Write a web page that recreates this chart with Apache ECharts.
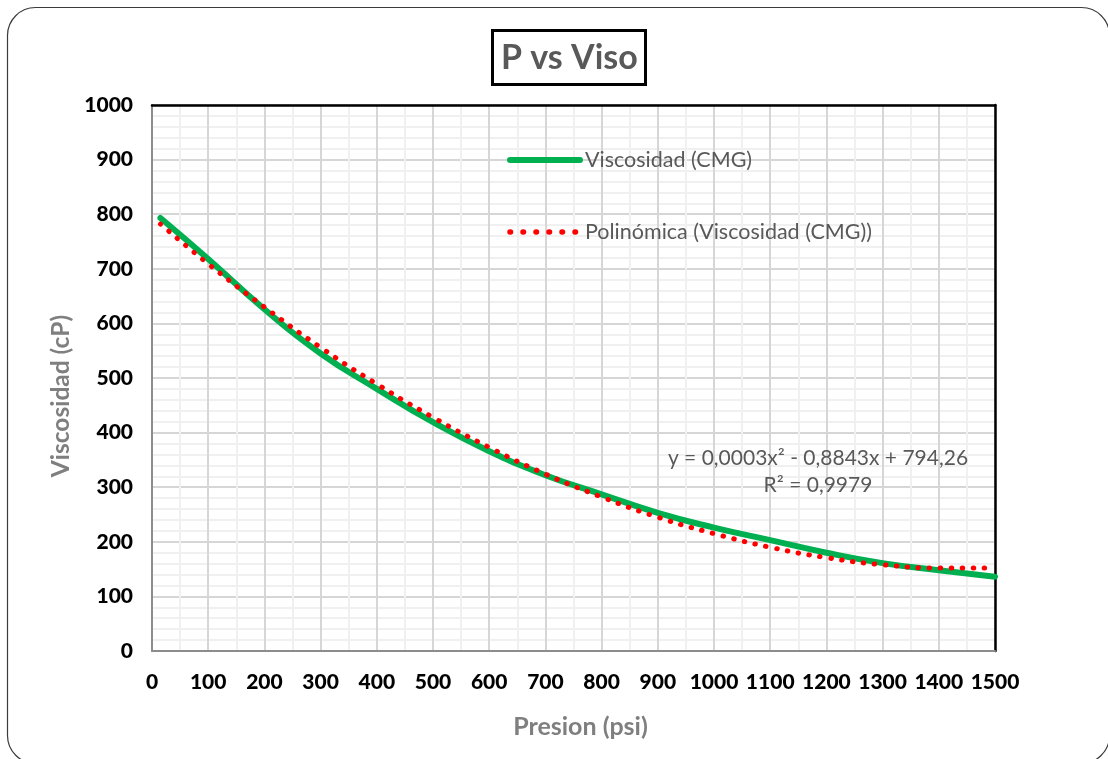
<!DOCTYPE html>
<html>
<head>
<meta charset="utf-8">
<script src="https://cdn.jsdelivr.net/npm/echarts@6/dist/echarts.min.js"></script>
<style>
  html, body { margin: 0; padding: 0; background: #ffffff; }
  #chart { width: 1108px; height: 759px; }
</style>
</head>
<body>
<div id="chart"></div>
<script>
// Pressure (psi) sample points
const presion = [15, 100, 200, 300, 400, 500, 600, 700, 800, 900, 1000, 1100, 1200, 1300, 1400, 1500];
// Simulated viscosity (cP) from CMG
const viscosidadCMG = [793, 718, 626, 545, 480, 419, 366, 322, 287, 253, 226, 203, 180, 161, 148, 136];
// Second-order polynomial trend of the CMG viscosity
const tendenciaPolinomica = [782, 709, 630, 556, 489, 428, 373, 324, 282, 245, 215, 190, 171, 158, 152, 152];
const ecuacion = ['y = 0,0003x² - 0,8843x + 794,26', 'R² = 0,9979'];

const FONT = 'Lato, "Open Sans", sans-serif';
const pairs = (xs, ys) => xs.map((x, i) => [x, ys[i]]);
const plain = v => String(v);

const chart = echarts.init(document.getElementById('chart'), null, { renderer: 'canvas' });

// Black frame along the top and right edges of the plot area
const frameAxis = {
  show: true,
  axisLine: { show: true, onZero: false, lineStyle: { color: '#000000', width: 2.5 } },
  axisTick: { show: false },
  axisLabel: { show: false },
  splitLine: { show: false }
};

chart.setOption({
  backgroundColor: '#ffffff',
  animation: false,
  title: {
    text: 'P vs Viso',
    left: 492,
    top: 30,
    padding: [11, 8, 10, 9],
    borderColor: '#000000',
    borderWidth: 3,
    textStyle: { fontFamily: FONT, fontWeight: 'bold', fontSize: 34, color: '#595959' }
  },
  legend: {
    orient: 'vertical',
    left: 502,
    top: 144,
    itemGap: 50,
    itemWidth: 70,
    itemHeight: 14,
    textStyle: { fontFamily: FONT, fontSize: 21.5, color: '#595959' },
    data: [
      { name: 'Viscosidad (CMG)', itemStyle: { opacity: 0 }, lineStyle: { color: '#00b050', width: 6, cap: 'round' } },
      { name: 'Polinómica (Viscosidad (CMG))', itemStyle: { opacity: 0 }, lineStyle: { color: '#ff0000', width: 5.5, type: [0.5, 12.5], cap: 'round' } }
    ]
  },
  grid: {
    left: 152, right: 113, top: 105, bottom: 108,
    containLabel: false
  },
  xAxis: [
    {
      type: 'value',
      min: 0, max: 1500, interval: 100,
      name: 'Presion (psi)',
      nameLocation: 'middle',
      nameGap: 63,
      nameTextStyle: { fontFamily: FONT, fontWeight: 'bold', fontSize: 25, color: '#7f7f7f', padding: [0, 0, 0, 14] },
      axisLine: { show: true, lineStyle: { color: '#8c8c8c', width: 2 } },
      axisTick: { show: false },
      axisLabel: { margin: 21, fontFamily: FONT, fontWeight: 900, fontSize: 21, color: '#000000', formatter: plain },
      splitLine: { show: true, lineStyle: { color: '#d6d6d6', width: 2 } },
      minorTick: { show: false, splitNumber: 2 },
      minorSplitLine: { show: true, lineStyle: { color: '#f0f0f0', width: 2 } }
    },
    Object.assign({ type: 'value', position: 'top', min: 0, max: 1500 }, frameAxis)
  ],
  yAxis: [
    {
      type: 'value',
      min: 0, max: 1000, interval: 100,
      name: 'Viscosidad (cP)',
      nameLocation: 'middle',
      nameGap: 74,
      nameTextStyle: { fontFamily: FONT, fontWeight: 'bold', fontSize: 24.5, color: '#7f7f7f', padding: [0, 36, 0, 0] },
      axisLine: { show: true, lineStyle: { color: '#8c8c8c', width: 2 } },
      axisTick: { show: false },
      axisLabel: { margin: 19, fontFamily: FONT, fontWeight: 900, fontSize: 21, color: '#000000', formatter: plain },
      splitLine: { show: true, lineStyle: { color: '#d6d6d6', width: 2 } },
      minorTick: { show: false, splitNumber: 5 },
      minorSplitLine: { show: true, lineStyle: { color: '#f0f0f0', width: 2 } }
    },
    Object.assign({ type: 'value', position: 'right', min: 0, max: 1000 }, frameAxis)
  ],
  graphic: [
    {
      type: 'rect',
      silent: true,
      z: -1,
      shape: { x: 7.5, y: 7.5, width: 1102, height: 756, r: 28 },
      style: { fill: 'none', stroke: '#3a3a3a', lineWidth: 1.2 }
    },
    {
      type: 'text',
      silent: true,
      z: 100,
      x: 818,
      y: 445,
      style: {
        text: ecuacion.join('\n'),
        textAlign: 'center',
        fontFamily: FONT,
        fontSize: 21,
        lineHeight: 27,
        fill: '#595959'
      }
    }
  ],
  series: [
    {
      name: 'Viscosidad (CMG)',
      type: 'line',
      data: pairs(presion, viscosidadCMG),
      smooth: 0.5,
      symbol: 'none',
      z: 2,
      lineStyle: { color: '#00b050', width: 6, cap: 'round' },
      itemStyle: { color: '#00b050' }
    },
    {
      name: 'Polinómica (Viscosidad (CMG))',
      type: 'line',
      data: pairs(presion, tendenciaPolinomica),
      smooth: 0.5,
      symbol: 'none',
      z: 3,
      lineStyle: { color: '#ff0000', width: 5, type: [0.5, 10.5], cap: 'round' },
      itemStyle: { color: '#ff0000' }
    }
  ]
});
</script>
</body>
</html>
